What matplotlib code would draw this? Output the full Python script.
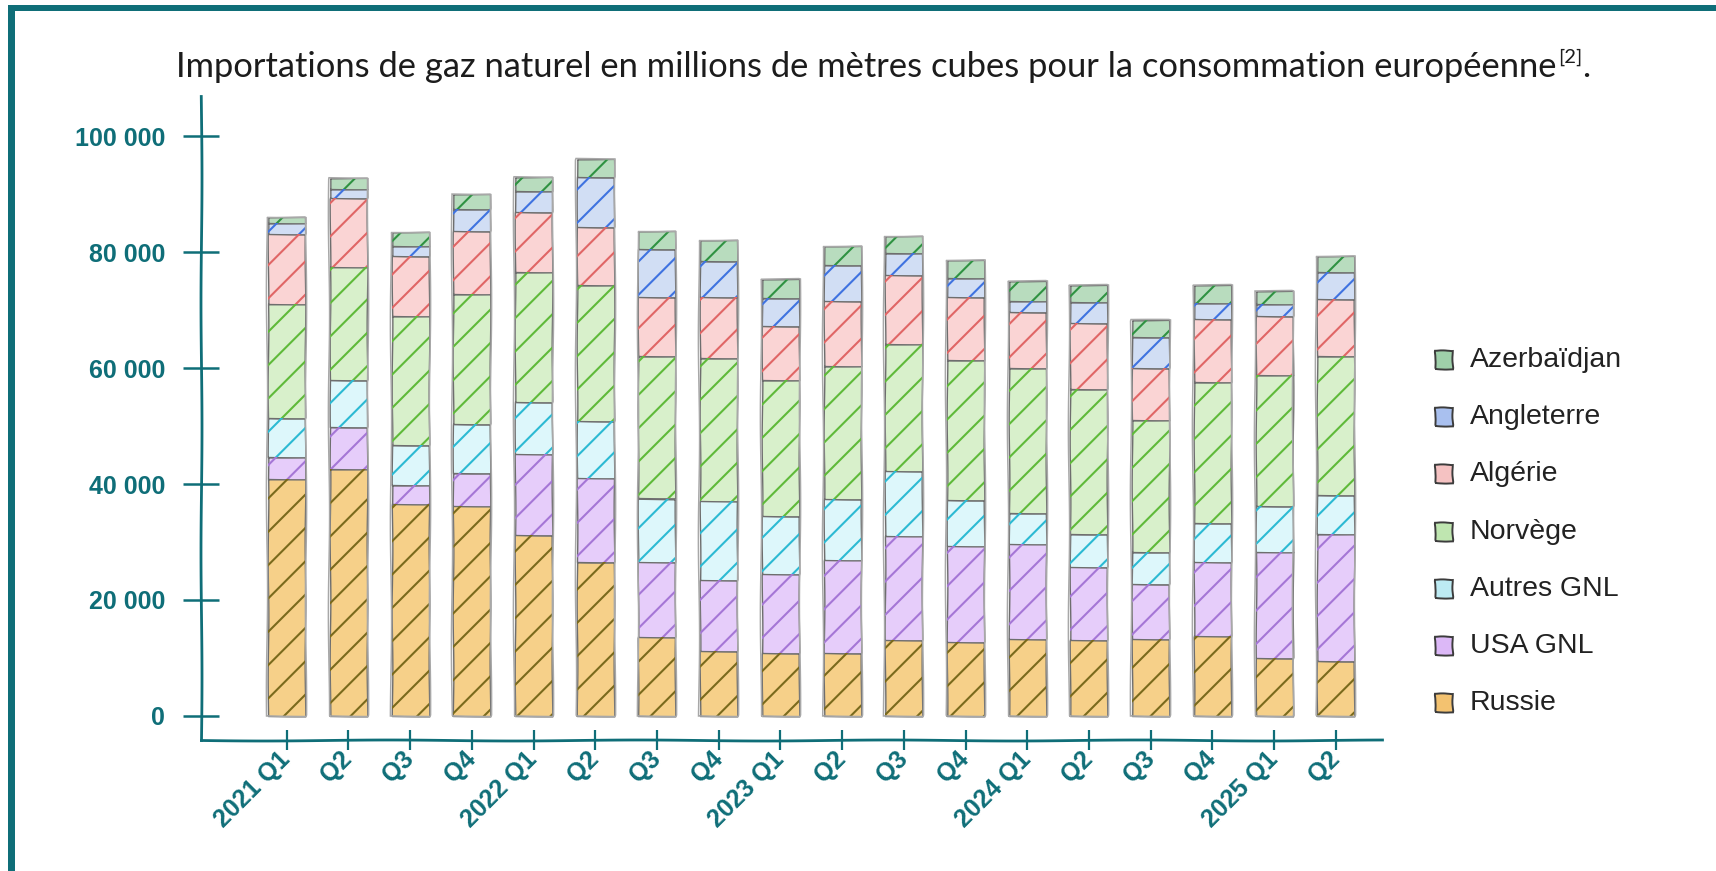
import matplotlib
matplotlib.use("Agg")
import matplotlib.pyplot as plt
from matplotlib.patches import Rectangle
from matplotlib.ticker import FuncFormatter
import numpy as np

# ---------------- data (millions m3) ----------------
quarters = ["2021 Q1", "Q2", "Q3", "Q4", "2022 Q1", "Q2", "Q3", "Q4",
            "2023 Q1", "Q2", "Q3", "Q4", "2024 Q1", "Q2", "Q3", "Q4",
            "2025 Q1", "Q2"]
series_names = ["Russie", "USA GNL", "Autres GNL", "Norvège", "Algérie",
                "Angleterre", "Azerbaïdjan"]
russie = [40800, 42600, 36500, 36200, 31200, 26500, 13600, 11200, 10900,
          10900, 13100, 12700, 13300, 13100, 13200, 13800, 10000, 9400]
usa_gnl = [3800, 7200, 3300, 5700, 13900, 14600, 13000, 12300, 13600,
           16000, 17900, 16600, 16400, 12600, 9500, 12700, 18300, 21900]
autres_gnl = [6700, 8100, 7000, 8400, 9000, 9800, 10900, 13600, 10000,
              10500, 11200, 7900, 5300, 5700, 5600, 6800, 7900, 6800]
norvege = [19700, 19600, 22200, 22400, 22500, 23400, 24600, 24600, 23400,
           23000, 22000, 24200, 25000, 25000, 22700, 24300, 22600, 24000]
algerie = [12100, 11800, 10300, 11000, 10300, 10000, 10200, 10500, 9400,
           11200, 11800, 10900, 9600, 11300, 9000, 10800, 10100, 9800]
angleterre = [1900, 1600, 1700, 3700, 3700, 8600, 8300, 6300, 4700,
              6200, 3800, 3200, 1900, 3600, 5400, 2800, 2100, 4700]
azerbaidjan = [1000, 1900, 2400, 2600, 2400, 3200, 3100, 3600, 3300,
               3200, 3000, 3200, 3500, 3000, 2800, 3100, 2300, 2700]
yticks = [0, 20000, 40000, 60000, 80000, 100000]

title_main = "Importations de gaz naturel en millions de mètres cubes pour la consommation européenne"
title_sup = "[2]"

series = [russie, usa_gnl, autres_gnl, norvege, algerie, angleterre, azerbaidjan]
face_colors = ["#f6d089", "#e6cdfa", "#ddf7fb", "#d8f0cb", "#fad4d4", "#d1def4", "#b8dcbe"]
hatch_colors = ["#7a6a1c", "#a577d6", "#2cbad3", "#5fba3a", "#e06666", "#3f73e0", "#2f9242"]
legend_colors = ["#f3c270", "#dcb8f7", "#bdebf3", "#bfe6b0", "#f5c2c2", "#a9c0ef", "#9fd0aa"]

TEAL = "#0f6e78"
W, H = 1716, 871
SANS = ["Liberation Sans", "Arimo", "DejaVu Sans"]

plt.rcParams["font.family"] = SANS
plt.rcParams["hatch.linewidth"] = 1.5

fig = plt.figure(figsize=(W / 100, H / 100), dpi=100)
fig.patch.set_facecolor("white")


def fx(px):
    return px / W


def fy(py):
    return 1 - py / H


# frame borders (left + top)
fig.add_artist(Rectangle((fx(8), 0), 7 / W, fy(5), transform=fig.transFigure,
                         facecolor=TEAL, edgecolor="none"))
fig.add_artist(Rectangle((fx(8), fy(11)), 1 - fx(8), 6 / H, transform=fig.transFigure,
                         facecolor=TEAL, edgecolor="none"))

ax = fig.add_axes([fx(201), fy(740), fx(1382) - fx(201), fy(96) - fy(740)])
ax.set_facecolor("none")

x = np.arange(len(quarters))
bottom = np.zeros(len(x))
for vals, fc, hc in zip(series, face_colors, hatch_colors):
    v = np.array(vals, dtype=float)
    bars = ax.bar(x, v, width=0.6, bottom=bottom, color=fc, edgecolor="#6e6e6e",
                  linewidth=1.0, zorder=2)
    for p in bars:
        p.set_sketch_params(0.35, 120, 1)
    ax.bar(x, v, width=0.6, bottom=bottom, facecolor="none", edgecolor=hc,
           linewidth=0, hatch="/", zorder=3)
    bottom += v

outline = ax.bar(x, bottom, width=0.63, fill=False, edgecolor="#a8a8a8",
                 linewidth=1.1, zorder=4)
for p in outline:
    p.set_sketch_params(0.6, 200, 1)

ax.set_xlim(-1.39, 17.75)
ax.set_ylim(-4140, 106900)

for s in ["top", "right"]:
    ax.spines[s].set_visible(False)
for s in ["left", "bottom"]:
    ax.spines[s].set_color(TEAL)
    ax.spines[s].set_linewidth(2)
    ax.spines[s].set_sketch_params(0.5, 250, 1)

ax.set_yticks(yticks)
ax.yaxis.set_major_formatter(FuncFormatter(lambda v, p: f"{int(v):,}".replace(",", " ")))
ax.tick_params(axis="y", direction="inout", length=26, width=1.8, color=TEAL,
               pad=13, labelsize=18, labelcolor=TEAL)
ax.set_xticks(x)
ax.set_xticklabels(quarters, rotation=45, ha="right", va="center",
                   rotation_mode="anchor")
ax.tick_params(axis="x", direction="inout", length=14, width=1.6, color=TEAL,
               pad=4, labelsize=18, labelcolor=TEAL)
for lbl in ax.get_xticklabels() + ax.get_yticklabels():
    lbl.set_fontweight("bold")
    lbl.set_fontfamily(SANS)

# title with superscript, centred
r = fig.canvas.get_renderer()
TF = ["Lato", "DejaVu Sans"]
t1 = fig.text(0, fy(67), title_main, fontsize=24.8, family=TF,
              va="center", ha="left", color="#1c1c1c")
t2 = fig.text(0, fy(57), title_sup, fontsize=14.5, family=TF,
              va="center", ha="left", color="#1c1c1c")
t3 = fig.text(0, fy(67), ".", fontsize=24.8, family=TF,
              va="center", ha="left", color="#1c1c1c")
w1 = t1.get_window_extent(renderer=r).width
w2 = t2.get_window_extent(renderer=r).width
w3 = t3.get_window_extent(renderer=r).width
total = w1 + 2 + w2 + w3
x0 = 883 - total / 2
t1.set_x(fx(x0))
t2.set_x(fx(x0 + w1 + 2))
t3.set_x(fx(x0 + w1 + 2 + w2))

# legend (top entry = last stacked series)
for i, k in enumerate(range(len(series_names) - 1, -1, -1)):
    yc = 360 + i * 57.2
    sq = Rectangle((fx(1435), fy(yc + 9)), 18 / W, 18 / H, transform=fig.transFigure,
                   facecolor=legend_colors[k], edgecolor="#3c3c3c", linewidth=1.4)
    sq.set_sketch_params(0.6, 40, 2)
    fig.add_artist(sq)
    fig.text(fx(1470), fy(yc), series_names[k], fontsize=20.5, va="center",
             ha="left", color="#222222", family=SANS)

fig.savefig("out.png", dpi=100)
